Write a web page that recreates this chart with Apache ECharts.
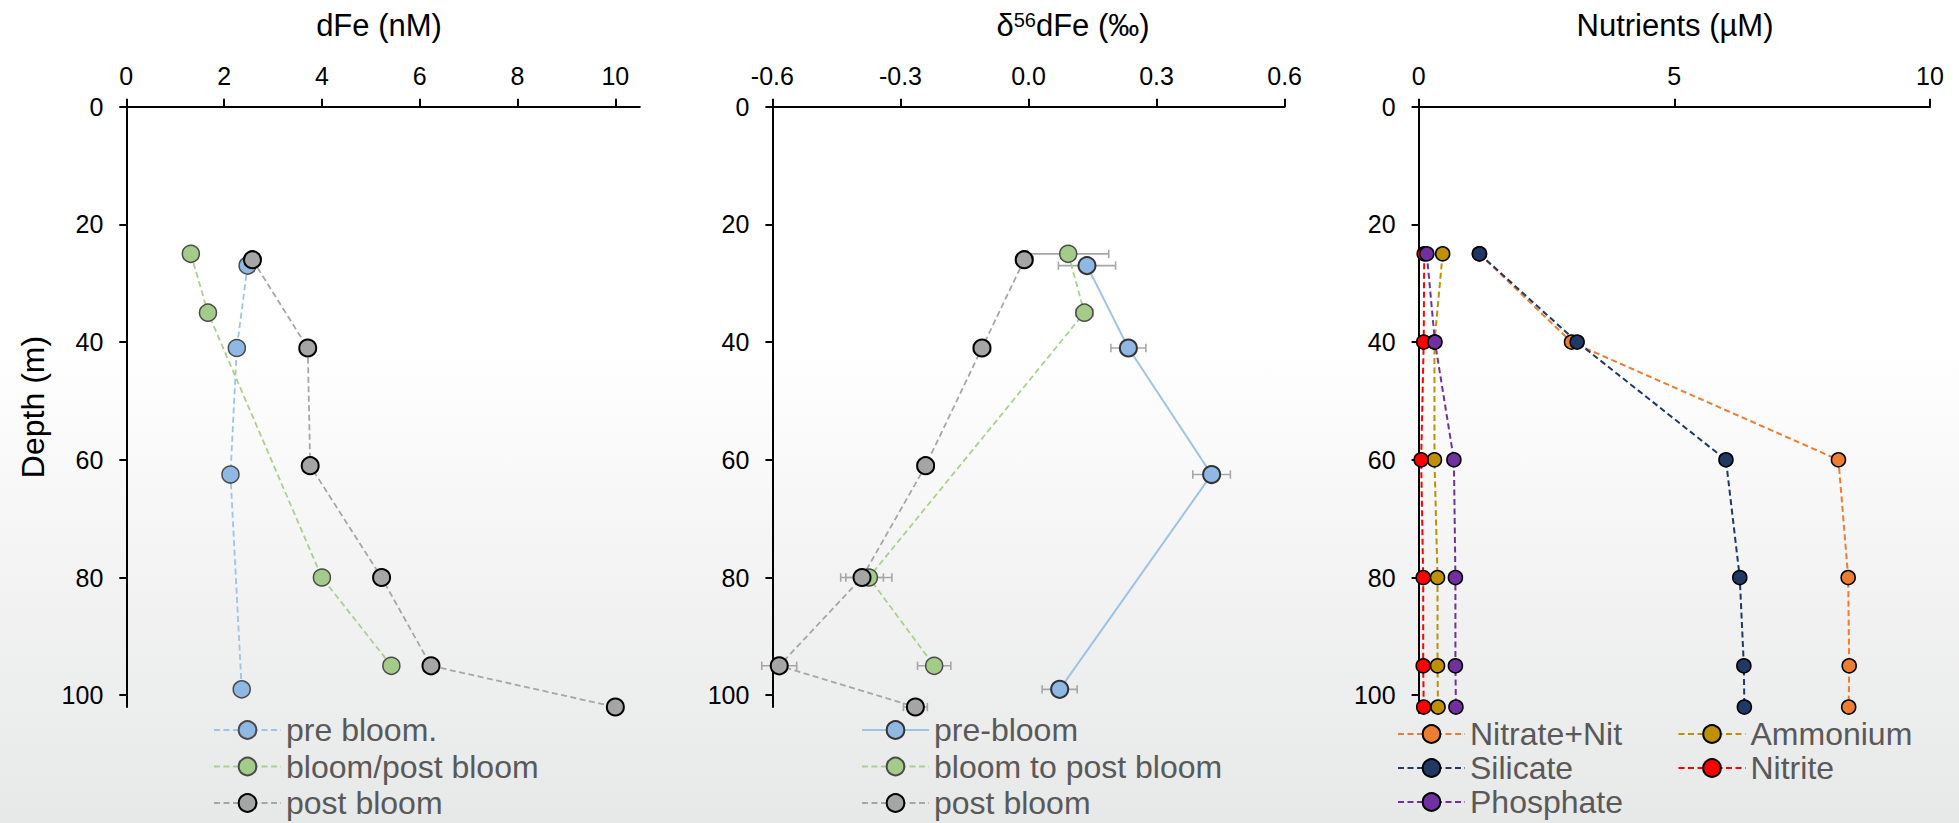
<!DOCTYPE html>
<html>
<head>
<meta charset="utf-8">
<script src="https://cdn.jsdelivr.net/npm/echarts@6/dist/echarts.min.js"></script>
<style>
  html, body { margin: 0; padding: 0; width: 1959px; height: 823px; overflow: hidden; }
  body { background: linear-gradient(to bottom, #ffffff 0%, #ffffff 42%, #f3f3f3 70%, #e7e8e8 100%); }
  #chart { width: 1959px; height: 823px; }
</style>
</head>
<body>
<div id="chart"></div>
<script>
// ---- tick labels ----
const dfeTicks = [0, 2, 4, 6, 8, 10];
const isoTicks = [-0.6, -0.3, 0, 0.3, 0.6];
const nutTicks = [0, 5, 10];
const depthTicks = [0, 20, 40, 60, 80, 100];

// ---- sampling depths (m) ----
const preDepth = [27, 41, 62.5, 99];
const bloomDepth = [25, 35, 80, 95];
const postDepth = [26, 41, 61, 80, 95, 102];
const nutDepth = [25, 40, 60, 80, 95, 102];

// ---- dissolved Fe (nM) ----
const dfePre = [2.48, 2.26, 2.13, 2.36];
const dfeBloom = [1.32, 1.67, 4.00, 5.42];
const dfePost = [2.58, 3.71, 3.76, 5.22, 6.23, 10.0];

// ---- δ56dFe (‰) with 2SD ----
const isoPre = [0.137, 0.234, 0.429, 0.073];
const isoPreErr = [0.067, 0.041, 0.044, 0.041];
const isoBloom = [0.093, 0.131, -0.374, -0.221];
const isoBloomErr = [0.095, 0.02, 0.054, 0.039];
const isoPost = [-0.010, -0.109, -0.241, -0.390, -0.584, -0.265];
const isoPostErr = [0.02, 0.02, 0.02, 0.05, 0.041, 0.028];

// ---- nutrients (µM) ----
const nitrate = [1.19, 2.99, 8.21, 8.40, 8.42, 8.41];
const ammonium = [0.47, 0.31, 0.31, 0.37, 0.37, 0.38];
const silicate = [1.19, 3.10, 6.01, 6.28, 6.36, 6.37];
const nitrite = [0.11, 0.10, 0.05, 0.09, 0.09, 0.10];
const phosphate = [0.16, 0.32, 0.69, 0.72, 0.72, 0.73];

const FONT = "'Liberation Sans', Arial, Helvetica, sans-serif";
const DASH = [6, 3.5];

function pts(values, depths) {
  return values.map((v, i) => [v, depths[i]]);
}

function profile(name, gi, values, depths, o) {
  return {
    type: 'line', name: name, xAxisIndex: gi, yAxisIndex: gi,
    data: pts(values, depths),
    symbol: 'circle', symbolSize: o.size,
    lineStyle: { color: o.line, width: o.lw, type: o.solid ? 'solid' : DASH },
    itemStyle: { color: o.fill, borderColor: o.border, borderWidth: o.bw },
    emphasis: { disabled: true },
    z: 3
  };
}

function errorBars(gi, values, depths, errs) {
  return {
    type: 'custom', xAxisIndex: gi, yAxisIndex: gi, silent: true, z: 2, clip: false,
    encode: { x: 0, y: 1 },
    data: values.map((v, i) => [v, depths[i], errs[i]]),
    renderItem: function (params, api) {
      const x = api.value(0), y = api.value(1), e = api.value(2);
      const a = api.coord([x - e, y]);
      const b = api.coord([x + e, y]);
      const h = 4.2;
      const st = { stroke: '#A6A6A6', lineWidth: 1.6 };
      return {
        type: 'group',
        children: [
          { type: 'line', shape: { x1: a[0], y1: a[1], x2: b[0], y2: b[1] }, style: st },
          { type: 'line', shape: { x1: a[0], y1: a[1] - h, x2: a[0], y2: a[1] + h }, style: st },
          { type: 'line', shape: { x1: b[0], y1: b[1] - h, x2: b[0], y2: b[1] + h }, style: st }
        ]
      };
    }
  };
}

function xAxis(gi, min, max, interval, ticks, fmt) {
  return {
    type: 'value', gridIndex: gi, position: 'top', min: min, max: max, interval: interval,
    axisLine: { show: true, onZero: false, lineStyle: { color: '#000', width: 2 } },
    axisTick: { show: true, length: 8, lineStyle: { color: '#000', width: 2 }, customValues: ticks },
    axisLabel: { customValues: ticks, formatter: fmt, fontSize: 25, color: '#000', margin: 18, fontFamily: FONT },
    splitLine: { show: false }
  };
}

function yAxis(gi, max) {
  return {
    type: 'value', gridIndex: gi, inverse: true, min: 0, max: max, interval: 20,
    axisLine: { show: true, onZero: false, lineStyle: { color: '#000', width: 2 } },
    axisTick: { show: true, length: 7, lineStyle: { color: '#000', width: 2 }, customValues: depthTicks },
    axisLabel: { customValues: depthTicks, fontSize: 25, color: '#000', margin: 23, fontFamily: FONT },
    splitLine: { show: false }
  };
}

const titleStyle = { fontSize: 31, fontWeight: 'normal', color: '#000', fontFamily: FONT };
const legendBase = {
  orient: 'vertical', itemWidth: 67, itemHeight: 22, padding: 0, height: 140, selectedMode: false,
  textStyle: { color: '#595959', fontSize: 32, lineHeight: 32, fontFamily: FONT }
};

const chart = echarts.init(document.getElementById('chart'), null, { renderer: 'svg' });
chart.setOption({
  animation: false,
  backgroundColor: 'transparent',
  title: [
    { text: 'dFe (nM)', left: 379, top: 10, textAlign: 'center', padding: 0, textStyle: titleStyle },
    {
      text: '{a|δ}{s|56}{a|dFe (‰)}', left: 1073, top: 10, textAlign: 'center', padding: 0,
      textStyle: {
        ...titleStyle,
        rich: {
          a: { fontSize: 31, color: '#000', fontFamily: FONT },
          s: { fontSize: 20, color: '#000', fontFamily: FONT, verticalAlign: 'top' }
        }
      }
    },
    { text: 'Nutrients (µM)', left: 1675, top: 10, textAlign: 'center', padding: 0, textStyle: titleStyle }
  ],
  graphic: [
    {
      type: 'text', x: 33, y: 407, rotation: Math.PI / 2,
      style: { text: 'Depth (m)', font: '32px ' + FONT, fill: '#000', align: 'center', verticalAlign: 'middle' }
    }
  ],
  grid: [
    { left: 126.3, top: 106.7, width: 513.5, height: 600.3 },
    { left: 772.4, top: 106.7, width: 512.2, height: 600.3 },
    { left: 1418.6, top: 106.7, width: 511.4, height: 606.2 }
  ],
  xAxis: [
    xAxis(0, 0, 10.5, 2, dfeTicks, v => String(Math.round(v))),
    xAxis(1, -0.6, 0.6, 0.3, isoTicks, v => (Math.abs(v) < 1e-9 ? 0 : v).toFixed(1)),
    xAxis(2, 0, 10, 5, nutTicks, v => String(Math.round(v)))
  ],
  yAxis: [yAxis(0, 102), yAxis(1, 102), yAxis(2, 103)],
  legend: [
    { ...legendBase, left: 213, top: 714, itemGap: 4.5, data: ['pre bloom.', 'bloom/post bloom', 'post bloom'] },
    { ...legendBase, left: 861, top: 714, itemGap: 4.5, data: ['pre-bloom', 'bloom to post bloom', 'post bloom'] },
    { ...legendBase, left: 1397, top: 718, itemGap: 2, data: ['Nitrate+Nit', 'Silicate', 'Phosphate'] },
    { ...legendBase, left: 1677.5, top: 718, itemGap: 2, data: ['Ammonium', 'Nitrite'] }
  ],
  series: [
    // dFe panel
    profile('pre bloom.', 0, dfePre, preDepth, { size: 17, line: '#9DC3E6', lw: 1.8, fill: '#8FB9E4', border: '#4a4a4a', bw: 1.5 }),
    profile('bloom/post bloom', 0, dfeBloom, bloomDepth, { size: 17, line: '#A9D18E', lw: 1.8, fill: '#A2CC87', border: '#4a4a4a', bw: 1.5 }),
    profile('post bloom', 0, dfePost, postDepth, { size: 17, line: '#A6A6A6', lw: 1.8, fill: '#A5A5A5', border: '#000', bw: 2 }),

    // δ56dFe panel
    errorBars(1, isoBloom, bloomDepth, isoBloomErr),
    errorBars(1, isoPre, preDepth, isoPreErr),
    errorBars(1, isoPost, postDepth, isoPostErr),
    profile('bloom to post bloom', 1, isoBloom, bloomDepth, { size: 17, line: '#A9D18E', lw: 1.8, fill: '#A2CC87', border: '#4a4a4a', bw: 1.5 }),
    profile('pre-bloom', 1, isoPre, preDepth, { size: 17, line: '#9DC3E6', lw: 2, solid: true, fill: '#8FB9E4', border: '#333', bw: 2 }),
    profile('post bloom', 1, isoPost, postDepth, { size: 17, line: '#A6A6A6', lw: 1.8, fill: '#A5A5A5', border: '#000', bw: 2 }),

    // nutrients panel
    profile('Nitrate+Nit', 2, nitrate, nutDepth, { size: 14, line: '#ED7D31', lw: 2, fill: '#ED7D31', border: '#000', bw: 1.6 }),
    profile('Ammonium', 2, ammonium, nutDepth, { size: 14, line: '#BF9000', lw: 2, fill: '#BF9000', border: '#000', bw: 1.6 }),
    profile('Silicate', 2, silicate, nutDepth, { size: 14, line: '#1F3864', lw: 2, fill: '#1F3864', border: '#000', bw: 1.6 }),
    profile('Nitrite', 2, nitrite, nutDepth, { size: 14, line: '#FF0000', lw: 2, fill: '#FF0000', border: '#000', bw: 1.6 }),
    profile('Phosphate', 2, phosphate, nutDepth, { size: 14, line: '#7030A0', lw: 2, fill: '#7030A0', border: '#000', bw: 1.6 })
  ]
});
</script>
</body>
</html>
